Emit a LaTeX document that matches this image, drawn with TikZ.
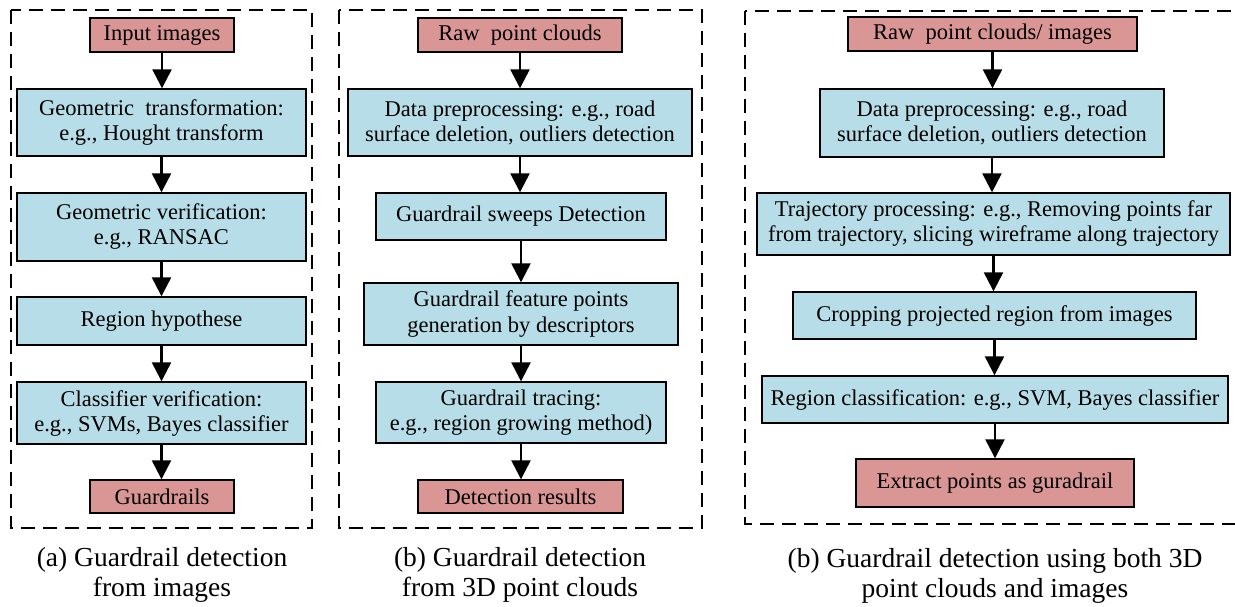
\documentclass[tikz,border=0pt]{standalone}
\usepackage{fontspec}
\setmainfont{Liberation Serif}
\usetikzlibrary{arrows.meta}
\definecolor{termfill}{RGB}{217,150,148}
\definecolor{procfill}{RGB}{183,222,232}
\tikzset{
  box/.style={draw=black, line width=1.4pt, align=center, inner sep=0pt,
    font=\fontsize{22.5}{25}\selectfont},
  term/.style={box, fill=termfill},
  proc/.style={box, fill=procfill},
  flow/.style={line width=2.4pt, -{Triangle[width=19pt,length=19pt]}},
  frame/.style={draw=black, line width=1.6pt, dash pattern=on 14pt off 8pt},
  caption/.style={align=center, font=\fontsize{27.5}{30}\selectfont}
}
\begin{document}
\begin{tikzpicture}[x=1pt,y=-1pt]
\useasboundingbox (0,0) rectangle (1235,606);
\clip (0,0) rectangle (1235,606);

% dashed panel frames
\draw[frame] (11,10) rectangle (312,528);
\draw[frame] (339,10) rectangle (702,528);
\draw[frame] (745,11) rectangle (1245,524);

% (a) detection from images
\node[term, minimum width=144pt, minimum height=34pt] (inA) at (162,35) {Input images};
\node[proc, minimum width=289pt, minimum height=67pt] (gtA) at (161.5,122.5) {Geometric\ \ transformation:\\e.g., Hought transform};
\node[proc, minimum width=289pt, minimum height=68pt] (gvA) at (161.5,227) {Geometric verification:\\e.g., RANSAC};
\node[proc, minimum width=289pt, minimum height=48pt] (rhA) at (161.5,321) {Region hypothese};
\node[proc, minimum width=289pt, minimum height=62pt] (cvA) at (161.5,413) {Classifier verification:\\e.g., SVMs, Bayes classifier};
\node[term, minimum width=144pt, minimum height=33pt] (outA) at (162,496.5) {Guardrails};
\node[caption] (capA) at (162,575) {(a) Guardrail detection\\from images};

% (b) detection from 3D point clouds
\node[term, minimum width=204pt, minimum height=34pt] (inB) at (520,35) {Raw\ \ point clouds};
\node[proc, minimum width=344pt, minimum height=67pt] (dpB) at (520,122.5) {Data preprocessing: e.g., road\\surface deletion, outliers detection};
\node[proc, minimum width=290pt, minimum height=47pt] (gsB) at (521,216.5) {Guardrail sweeps Detection};
\node[proc, minimum width=314pt, minimum height=62pt] (fpB) at (521,314) {Guardrail feature points\\generation by descriptors};
\node[proc, minimum width=290pt, minimum height=61pt] (gtB) at (521,412.5) {Guardrail tracing:\\e.g., region growing method)};
\node[term, minimum width=205pt, minimum height=33pt] (outB) at (520.5,496.5) {Detection results};
\node[caption] (capB) at (520,575) {(b) Guardrail detection\\from 3D point clouds};

% (c) detection using both point clouds and images
\node[term, minimum width=289pt, minimum height=34pt] (inC) at (992.5,34) {Raw\ \ point clouds/ images};
\node[proc, minimum width=344pt, minimum height=68pt] (dpC) at (992,123) {Data preprocessing: e.g., road\\surface deletion, outliers detection};
\node[proc, minimum width=473pt, minimum height=62pt] (tpC) at (993.5,224) {Trajectory processing: e.g., Removing points far\\from trajectory, slicing wireframe along trajectory};
\node[proc, minimum width=403pt, minimum height=47pt] (crC) at (994.5,315.5) {Cropping projected region from images};
\node[proc, minimum width=466pt, minimum height=47pt] (rcC) at (995,399.5) {Region classification: e.g., SVM, Bayes classifier};
\node[term, minimum width=278pt, minimum height=48pt] (outC) at (995,483) {Extract points as guradrail};
\node[caption] (capC) at (995,576) {(b) Guardrail detection using both 3D\\point clouds and images};

% vertical flow arrows, each dropping from a box to the next one
\foreach \a/\b in {inA/gtA, gtA/gvA, gvA/rhA, rhA/cvA, cvA/outA,
                   inB/dpB, dpB/gsB, gsB/fpB, fpB/gtB, gtB/outB,
                   inC/dpC, dpC/tpC, tpC/crC, crC/rcC, rcC/outC}
  \draw[flow] (\a.south) -- (\a.south |- \b.north);
\end{tikzpicture}
\end{document}
